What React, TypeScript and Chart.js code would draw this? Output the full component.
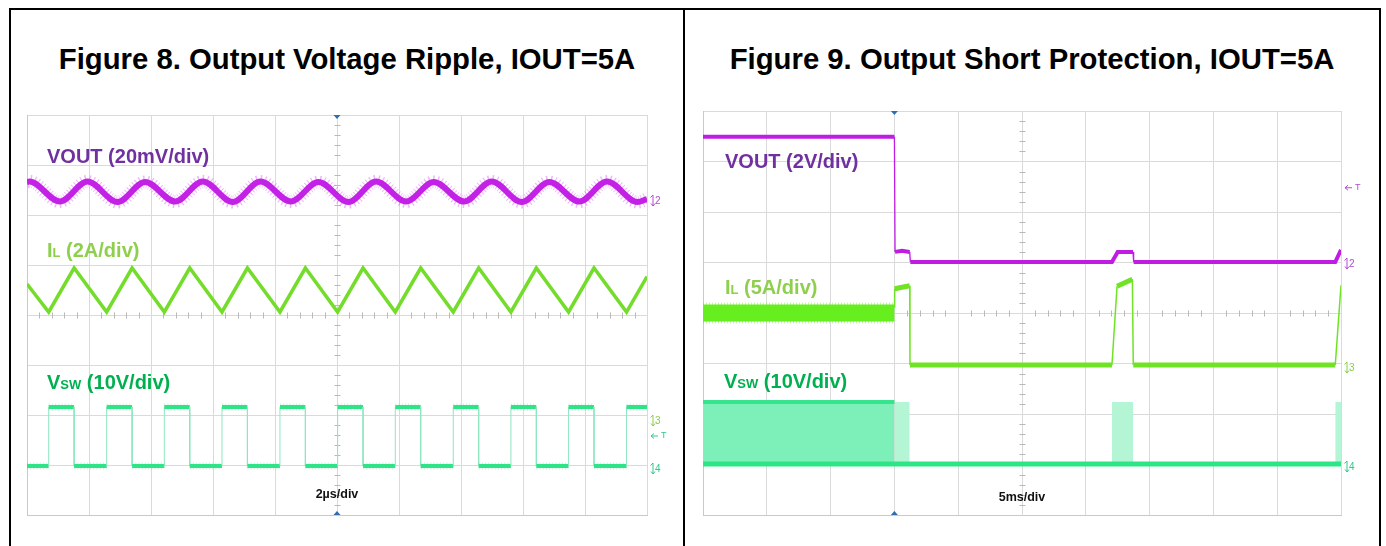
import React, { useEffect, useRef } from "react";
import { Chart, registerables } from "chart.js";
Chart.register(...registerables);

// ---------- Figure 8 (time in µs, 2 µs/div; values in scope divisions) ----------
const F8_X_MAX = 20;
const F8_X_STEP = 2;
const F8_VOUT_T = [0, 0.08, 1.06, 1.95, 2.92, 3.81, 4.78, 5.67, 6.64, 7.53, 8.51, 9.4, 10.37, 11.26, 12.23, 13.12, 14.1, 14.99, 15.96, 16.85, 17.82, 18.71, 19.69, 20];
const F8_VOUT_V = [2.66, 2.67, 2.27, 2.67, 2.26, 2.66, 2.27, 2.67, 2.26, 2.67, 2.27, 2.66, 2.26, 2.67, 2.27, 2.66, 2.27, 2.67, 2.26, 2.66, 2.27, 2.67, 2.26, 2.32];
const F8_IL_T = [0, 0.7, 1.52, 2.57, 3.39, 4.43, 5.25, 6.29, 7.11, 8.16, 8.98, 10.02, 10.84, 11.88, 12.7, 13.75, 14.57, 15.61, 16.43, 17.47, 18.29, 19.34, 20];
const F8_IL_V = [0.62, 0.06, 0.94, 0.06, 0.94, 0.06, 0.94, 0.06, 0.94, 0.06, 0.94, 0.06, 0.94, 0.06, 0.94, 0.06, 0.94, 0.06, 0.94, 0.06, 0.94, 0.06, 0.77];
const F8_VSW_RISE = [0.7, 2.57, 4.43, 6.29, 8.16, 10.02, 11.88, 13.75, 15.61, 17.47, 19.34];
const F8_VSW_FALL = [1.52, 3.39, 5.25, 7.11, 8.98, 10.84, 12.7, 14.57, 16.43, 18.29];
const F8_VSW_HIGH = -1.84;
const F8_VSW_LOW = -3.02;
const F8_TRIGGER = 10;
const F8_MARK_LABELS = ["2", "3", "T", "4"];
const F8_MARK_LEVELS = [2.3, -2.1, -2.42, -3.06];
const F8_MARK_COLORS = ["#b44ad6", "#86cf4a", "#2fc98c", "#2fc98c"];

// ---------- Figure 9 (time in ms, 5 ms/div) ----------
const F9_X_MAX = 50;
const F9_X_STEP = 5;
const F9_VOUT_T = [0, 15.0, 15.05, 15.6, 16.2, 16.25, 32.05, 32.5, 33.7, 33.75, 49.55, 50];
const F9_VOUT_V = [3.49, 3.49, 1.21, 1.23, 1.21, 1.01, 1.01, 1.21, 1.21, 1.01, 1.01, 1.25];
const F9_IL_BAND_T = [0, 15.0];
const F9_IL_BAND_V = [0.0, 0.0];
const F9_IL_T = [15.0, 15.02, 16.2, 16.22, 32.05, 32.45, 33.65, 33.72, 49.55, 50];
const F9_IL_V = [0.12, 0.48, 0.54, -1.03, -1.03, 0.53, 0.67, -1.03, -1.03, 0.55];
const F9_VSW_HIGH = -1.76;
const F9_VSW_LOW = -2.99;
const F9_BLOCK_DENSE = [0, 15.0];
const F9_BLOCK_LIGHT_START = [15.0, 32.05, 49.55];
const F9_BLOCK_LIGHT_END = [16.2, 33.7, 50];
const F9_TRIGGER = 15;
const F9_MARK_LABELS = ["T", "2", "3", "4"];
const F9_MARK_LEVELS = [2.48, 0.99, -1.07, -3.03];
const F9_MARK_COLORS = ["#b44ad6", "#b44ad6", "#86cf4a", "#2fc98c"];

const Y_MIN = -4;
const Y_MAX = 4;

const FONT = "'Liberation Sans', Arial, Helvetica, sans-serif";

type P = { x: number; y: number };
const pts = (t: number[], v: number[]): P[] => t.map((x, i) => ({ x, y: v[i] }));

function vswPoints(): P[] {
  const out: P[] = [{ x: 0, y: F8_VSW_LOW }];
  const edges = [
    ...F8_VSW_RISE.map((t) => ({ t, up: true })),
    ...F8_VSW_FALL.map((t) => ({ t, up: false })),
  ].sort((a, b) => a.t - b.t);
  for (const e of edges) {
    if (e.up) {
      out.push({ x: e.t, y: F8_VSW_LOW }, { x: e.t, y: F8_VSW_HIGH });
    } else {
      out.push({ x: e.t, y: F8_VSW_HIGH }, { x: e.t, y: F8_VSW_LOW });
    }
  }
  const last = out[out.length - 1].y;
  out.push({ x: F8_X_MAX, y: last });
  return out;
}

function drawMarker(ctx: CanvasRenderingContext2D, x: number, y: number, label: string, color: string) {
  ctx.save();
  ctx.strokeStyle = color;
  ctx.fillStyle = color;
  ctx.lineWidth = 1;
  if (label === "T") {
    ctx.beginPath();
    ctx.moveTo(x + 1, y);
    ctx.lineTo(x + 8, y);
    ctx.moveTo(x + 1, y);
    ctx.lineTo(x + 4, y - 2.5);
    ctx.moveTo(x + 1, y);
    ctx.lineTo(x + 4, y + 2.5);
    ctx.stroke();
    ctx.font = `9px ${FONT}`;
    ctx.textBaseline = "middle";
    ctx.fillText("T", x + 11, y);
  } else {
    ctx.beginPath();
    ctx.moveTo(x + 3, y - 5);
    ctx.lineTo(x + 3, y + 6);
    ctx.moveTo(x + 3, y - 5);
    ctx.lineTo(x + 0.5, y - 2.5);
    ctx.moveTo(x + 3, y + 6);
    ctx.lineTo(x + 5, y + 3.5);
    ctx.moveTo(x + 3, y + 6);
    ctx.lineTo(x + 1, y + 3.5);
    ctx.stroke();
    ctx.font = `10px ${FONT}`;
    ctx.textBaseline = "middle";
    ctx.fillText(label, x + 5, y + 1);
  }
  ctx.restore();
}

function makeDecor(centerX: number, step: number, trig: number, labels: string[], levels: number[], colors: string[]) {
  return {
    id: "scopeDecor",
    beforeDatasetsDraw(chart: any) {
      const { ctx, scales } = chart;
      const xs = scales.x;
      const ys = scales.y;
      const cx = Math.round(xs.getPixelForValue(centerX)) + 0.5;
      const cy = Math.round(ys.getPixelForValue(0)) + 0.5;
      ctx.save();
      ctx.strokeStyle = "#b9b9b9";
      ctx.lineWidth = 1;
      ctx.beginPath();
      for (let i = 1; i < (Y_MAX - Y_MIN) * 5; i++) {
        if (i % 5 === 0) continue;
        const py = Math.round(ys.getPixelForValue(Y_MIN + i * 0.2)) + 0.5;
        ctx.moveTo(cx - 3, py);
        ctx.lineTo(cx + 3, py);
      }
      const nx = Math.round((xs.max - xs.min) / step) * 5;
      for (let i = 1; i < nx; i++) {
        if (i % 5 === 0) continue;
        const px = Math.round(xs.getPixelForValue(xs.min + (i * step) / 5)) + 0.5;
        ctx.moveTo(px, cy - 3);
        ctx.lineTo(px, cy + 3);
      }
      ctx.stroke();
      ctx.restore();
    },
    afterDraw(chart: any) {
      const { ctx, scales, chartArea } = chart;
      const xs = scales.x;
      const ys = scales.y;
      const tx = xs.getPixelForValue(trig);
      ctx.save();
      ctx.fillStyle = "#2f6db3";
      ctx.beginPath();
      ctx.moveTo(tx - 3.5, chartArea.top);
      ctx.lineTo(tx + 3.5, chartArea.top);
      ctx.lineTo(tx, chartArea.top + 4);
      ctx.closePath();
      ctx.fill();
      ctx.beginPath();
      ctx.moveTo(tx - 3.5, chartArea.bottom);
      ctx.lineTo(tx + 3.5, chartArea.bottom);
      ctx.lineTo(tx, chartArea.bottom - 4);
      ctx.closePath();
      ctx.fill();
      ctx.restore();
      labels.forEach((l, i) => drawMarker(ctx, chartArea.right + 3, ys.getPixelForValue(levels[i]), l, colors[i]));
    },
  };
}

function scales(xMax: number, step: number) {
  return {
    x: {
      type: "linear",
      min: 0,
      max: xMax,
      ticks: { display: false, stepSize: step },
      grid: { color: "#dadada", lineWidth: 1, drawTicks: false },
      border: { display: true, color: "#c9c9c9" },
    },
    y: {
      type: "linear",
      min: Y_MIN,
      max: Y_MAX,
      ticks: { display: false, stepSize: 1 },
      grid: { color: "#dadada", lineWidth: 1, drawTicks: false },
      border: { display: true, color: "#c9c9c9" },
    },
  };
}

const baseOpts = {
  responsive: false,
  maintainAspectRatio: false,
  animation: false,
  events: [],
  plugins: { legend: { display: false }, tooltip: { enabled: false }, title: { display: false } },
  elements: { point: { radius: 0 } },
};

function fig8Config(): any {
  const vsw = vswPoints();
  const vert = (c: any) => Math.abs(c.p0.parsed.x - c.p1.parsed.x) < 1e-6;
  return {
    type: "line",
    data: {
      datasets: [
        {
          data: pts(F8_VOUT_T, F8_VOUT_V),
          borderColor: "#c322e6",
          borderWidth: 6,
          cubicInterpolationMode: "monotone",
          tension: 0.4,
        },
        {
          data: pts(F8_VOUT_T, F8_VOUT_V),
          borderColor: "rgba(205,70,236,0.38)",
          borderWidth: 13,
          borderDash: [1, 2.3],
          borderCapStyle: "butt",
          cubicInterpolationMode: "monotone",
          tension: 0.4,
        },
        {
          data: pts(F8_IL_T, F8_IL_V),
          borderColor: "#74dc2a",
          borderWidth: 3.5,
          borderJoinStyle: "miter",
        },
        {
          data: vsw,
          borderColor: "#2ee487",
          borderWidth: 4,
          segment: {
            borderWidth: (c: any) => (vert(c) ? 1 : 4),
            borderColor: (c: any) => (vert(c) ? "#8fe6c0" : "#2ee487"),
          },
        },
        {
          data: vsw,
          borderColor: "rgba(46,228,135,0.3)",
          borderWidth: 7,
          borderDash: [1, 2.2],
          borderCapStyle: "butt",
          segment: {
            borderColor: (c: any) => (vert(c) ? "rgba(0,0,0,0)" : "rgba(46,228,135,0.3)"),
          },
        },
      ],
    },
    options: {
      ...baseOpts,
      layout: { padding: { left: 16, top: 25, right: 36, bottom: 31 } },
      scales: scales(F8_X_MAX, F8_X_STEP),
    },
    plugins: [makeDecor(F8_X_MAX / 2, F8_X_STEP, F8_TRIGGER, F8_MARK_LABELS, F8_MARK_LEVELS, F8_MARK_COLORS)],
  };
}

function fig9Config(): any {
  const steepV = (c: any) => Math.abs(c.p0.parsed.x - c.p1.parsed.x) < 0.2;
  const steepI = (c: any) => Math.abs(c.p0.parsed.x - c.p1.parsed.x) < 0.5;
  const lightBlocks = F9_BLOCK_LIGHT_START.map((s, i) => ({
    data: [
      { x: s, y: F9_VSW_HIGH },
      { x: F9_BLOCK_LIGHT_END[i], y: F9_VSW_HIGH },
    ],
    borderWidth: 0,
    borderColor: "rgba(0,0,0,0)",
    backgroundColor: "#b3f5d5",
    fill: { value: F9_VSW_LOW },
  }));
  return {
    type: "line",
    data: {
      datasets: [
        {
          data: pts(F9_VOUT_T, F9_VOUT_V),
          borderColor: "#c01de4",
          borderWidth: 4,
          segment: { borderWidth: (c: any) => (steepV(c) ? 1.3 : 4) },
        },
        {
          data: pts(F9_IL_T, F9_IL_V),
          borderColor: "#70e326",
          borderWidth: 5,
          segment: { borderWidth: (c: any) => (steepI(c) ? 1.5 : 5) },
        },
        {
          data: pts(F9_IL_BAND_T, F9_IL_BAND_V),
          borderColor: "#66ee1e",
          borderWidth: 17,
          borderCapStyle: "butt",
        },
        {
          data: pts(F9_IL_BAND_T, F9_IL_BAND_V),
          borderColor: "rgba(102,238,30,0.4)",
          borderWidth: 21,
          borderDash: [1, 2],
          borderCapStyle: "butt",
        },
        {
          data: [
            { x: 0, y: F9_VSW_LOW },
            { x: F9_X_MAX, y: F9_VSW_LOW },
          ],
          borderColor: "#2de585",
          borderWidth: 5,
        },
        {
          data: [
            { x: F9_BLOCK_DENSE[0], y: F9_VSW_HIGH },
            { x: F9_BLOCK_DENSE[1], y: F9_VSW_HIGH },
          ],
          borderColor: "#35e48c",
          borderWidth: 4,
          borderCapStyle: "butt",
          backgroundColor: "#7cf0b8",
          fill: { value: F9_VSW_LOW },
        },
        ...lightBlocks,
      ],
    },
    options: {
      ...baseOpts,
      layout: { padding: { left: 18, top: 21, right: 38, bottom: 31 } },
      scales: scales(F9_X_MAX, F9_X_STEP),
    },
    plugins: [makeDecor(F9_X_MAX / 2, F9_X_STEP, F9_TRIGGER, F9_MARK_LABELS, F9_MARK_LEVELS, F9_MARK_COLORS)],
  };
}

function Scope({ left, top, width, height, config }: { left: number; top: number; width: number; height: number; config: () => any }) {
  const ref = useRef<HTMLCanvasElement>(null);
  useEffect(() => {
    if (!ref.current) return;
    const chart = new Chart(ref.current, config());
    return () => chart.destroy();
  }, []);
  return (
    <canvas
      ref={ref}
      width={width}
      height={height}
      style={{ position: "absolute", left, top, width, height }}
    />
  );
}

const labelBase: React.CSSProperties = {
  position: "absolute",
  fontFamily: FONT,
  fontWeight: 700,
  fontSize: 20,
  lineHeight: "20px",
  whiteSpace: "nowrap",
};

const sub: React.CSSProperties = { fontSize: 13 };

function Label({ x, y, color, children }: { x: number; y: number; color: string; children: React.ReactNode }) {
  return <div style={{ ...labelBase, left: x, top: y, color }}>{children}</div>;
}

function Title({ cx, text }: { cx: number; text: string }) {
  return (
    <div
      style={{
        position: "absolute",
        left: cx - 340,
        width: 680,
        top: 43.5,
        textAlign: "center",
        fontFamily: FONT,
        fontWeight: 700,
        fontSize: 29.3,
        lineHeight: "29px",
        color: "#000",
        whiteSpace: "nowrap",
      }}
    >
      {text}
    </div>
  );
}

function DivText({ cx, top, text }: { cx: number; top: number; text: string }) {
  return (
    <div
      style={{
        position: "absolute",
        left: cx - 50,
        width: 100,
        top,
        textAlign: "center",
        fontFamily: FONT,
        fontWeight: 700,
        fontSize: 12.5,
        lineHeight: "13px",
        color: "#111",
      }}
    >
      {text}
    </div>
  );
}

const PURPLE = "#7030a0";
const LGREEN = "#8fcf4e";
const DGREEN = "#00b050";

export default function App() {
  return (
    <div style={{ position: "absolute", left: 0, top: 0, width: 1386, height: 546, overflow: "hidden", background: "#fff" }}>
      <div style={{ position: "absolute", left: 9, top: 8, width: 1372, height: 600, border: "2px solid #000", boxSizing: "border-box" }} />
      <div style={{ position: "absolute", left: 683, top: 8, width: 2, height: 600, background: "#000" }} />

      <Title cx={347} text="Figure 8. Output Voltage Ripple, IOUT=5A" />
      <Title cx={1032} text="Figure 9. Output Short Protection, IOUT=5A" />

      <Scope left={11} top={90} width={672} height={456} config={fig8Config} />
      <Scope left={685} top={90} width={694} height={456} config={fig9Config} />

      <Label x={47} y={146.4} color={PURPLE}>VOUT (20mV/div)</Label>
      <Label x={47} y={239.8} color={LGREEN}>
        I<span style={sub}>L</span> (2A/div)
      </Label>
      <Label x={47} y={371.6} color={DGREEN}>
        V<span style={sub}>SW</span> (10V/div)
      </Label>
      <DivText cx={337} top={488} text="2µs/div" />

      <Label x={725} y={151.4} color={PURPLE}>VOUT (2V/div)</Label>
      <Label x={725} y={277.1} color={LGREEN}>
        I<span style={sub}>L</span> (5A/div)
      </Label>
      <Label x={724} y={371.4} color={DGREEN}>
        V<span style={sub}>SW</span> (10V/div)
      </Label>
      <DivText cx={1022} top={491} text="5ms/div" />
    </div>
  );
}
